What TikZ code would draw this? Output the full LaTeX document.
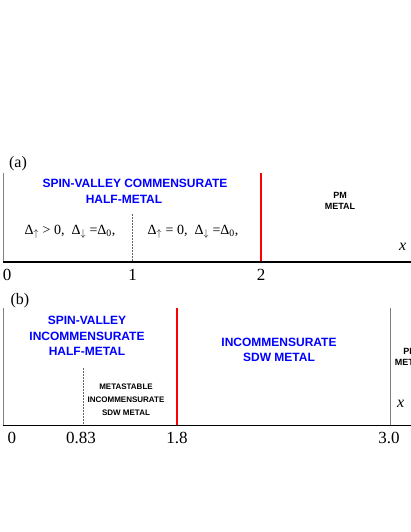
\documentclass[tikz,border=0pt]{standalone}
\usepackage{fontspec}
\setmainfont{Liberation Serif}
\setsansfont{Liberation Sans}

\tikzset{
  phase/.style={text=blue, font=\sffamily\bfseries\fontsize{12}{15.5}\selectfont, align=center, inner sep=0pt},
  metal/.style={font=\sffamily\bfseries\fontsize{9}{11.5}\selectfont, align=center, inner sep=0pt},
  meta/.style={font=\sffamily\bfseries\fontsize{8}{13}\selectfont, align=center, inner sep=0pt},
  num/.style={font=\fontsize{17}{17}\selectfont, inner sep=0pt},
  gap/.style={font=\fontsize{14}{14}\selectfont, inner sep=0pt},
  panel/.style={font=\fontsize{16}{16}\selectfont, inner sep=0pt},
  axis/.style={draw=black, line width=1.5pt},
  frame/.style={draw=black!50, line width=0.8pt},
  redline/.style={draw=red, line width=1.1pt},
  guide/.style={draw=black!60, line width=0.5pt, dash pattern=on 1.5pt off 1.5pt}
}

\begin{document}
\begin{tikzpicture}[x=1pt, y=-1pt]
\clip (0,0) rectangle (411,532);
\fill[white] (0,0) rectangle (411,532);

\coordinate (a0) at (3,262);
\coordinate (aend) at (411,262);
\coordinate (atop) at (3,173);
\coordinate (a1) at (132.5,262);
\coordinate (a1top) at (132.5,214);
\coordinate (a2) at (261,262);
\coordinate (a2top) at (261,173);
\draw[frame] (atop) -- (a0);
\draw[guide] (a1top) -- (a1);
\draw[redline] (a2top) -- (a2);
\draw[axis] (a0) -- (aend);

\node[panel] (la) at (18,164) {(a)};
\node[phase] (sva) at (135,183) {SPIN-VALLEY COMMENSURATE};
\node[phase] (hma) at (124,199) {HALF-METAL};
\node[metal] (pma) at (340,201) {PM\\METAL};
\node[gap] (ga1) at (70,232) {Δ\textsubscript{$\uparrow$} > 0,~ Δ\textsubscript{$\downarrow$} =Δ\textsubscript{0},};
\node[gap] (ga2) at (193,232) {Δ\textsubscript{$\uparrow$} = 0,~ Δ\textsubscript{$\downarrow$} =Δ\textsubscript{0},};
\node[font=\fontsize{16}{16}\selectfont\itshape, inner sep=0pt, anchor=west] (xa) at (399,247) {x};
\node[num] (n0) at (7,275) {0};
\node[num] (n1) at (132.5,275) {1};
\node[num] (n2) at (261,275) {2};

\coordinate (b0) at (3,425);
\coordinate (bend) at (411,425);
\coordinate (btop) at (3,308);
\coordinate (b1) at (83,425);
\coordinate (b1top) at (83,368);
\coordinate (b2) at (177,425);
\coordinate (b2top) at (177,308);
\coordinate (b3) at (390,425);
\coordinate (b3top) at (390,308);
\draw[frame] (btop) -- (b0);
\draw[guide] (b1top) -- (b1);
\draw[redline] (b2top) -- (b2);
\draw[frame] (b3top) -- (b3);
\draw[axis, line width=1pt] (b0) -- (bend);

\node[panel] (lb) at (20,301) {(b)};
\node[phase] (svb) at (87,336) {SPIN-VALLEY\\INCOMMENSURATE\\HALF-METAL};
\node[phase] (sdw) at (279,350) {INCOMMENSURATE\\SDW METAL};
\node[meta] (ms) at (126,400) {METASTABLE\\INCOMMENSURATE\\SDW METAL};
\node[metal] (pmb) at (410,357) {PM\\METAL};
\node[font=\fontsize{16}{16}\selectfont\itshape, inner sep=0pt, anchor=west] (xb) at (397,404) {x};
\node[num] (m0) at (12,438) {0};
\node[num] (m1) at (81,438) {0.83};
\node[num] (m2) at (177,438) {1.8};
\node[num] (m3) at (389,438) {3.0};
\end{tikzpicture}
\end{document}
